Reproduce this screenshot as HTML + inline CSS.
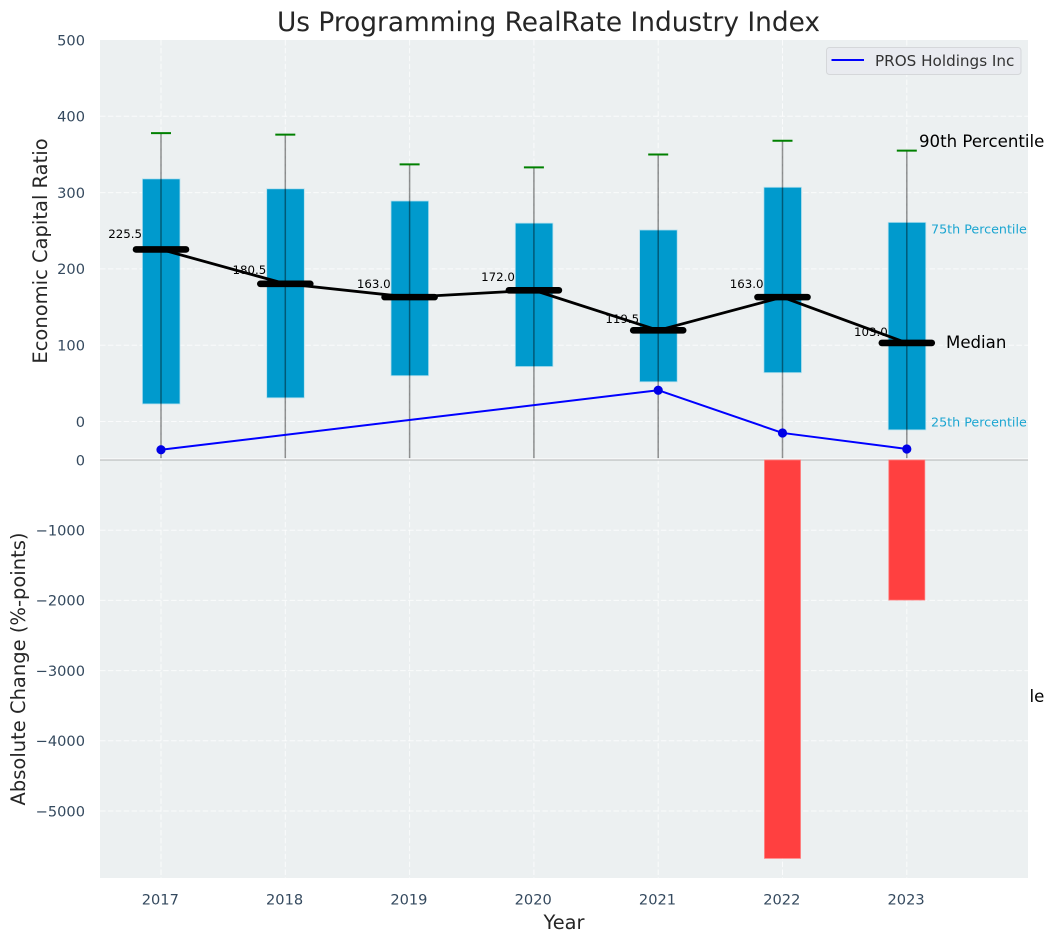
<!DOCTYPE html>
<html>
<head>
<meta charset="utf-8">
<title>Us Programming RealRate Industry Index</title>
<style>
html,body{margin:0;padding:0;background:#fff;width:1054px;height:942px;overflow:hidden}
svg{display:block}
text{font-family:"DejaVu Sans","Liberation Sans",sans-serif}
</style>
</head>
<body>
<svg id="chart" xmlns="http://www.w3.org/2000/svg" width="1054" height="942" viewBox="0 0 1054 942"></svg>
<script>
const years = [2017, 2018, 2019, 2020, 2021, 2022, 2023];
const p90 = [378, 376, 337, 333, 350, 368, 355];
const p75 = [318, 305, 289, 260, 251, 307, 261];
const medians = [225.5, 180.5, 163.0, 172.0, 119.5, 163.0, 103.0];
const p25 = [23, 31, 60, 72, 52, 64, -11];
const p10 = [-48, -48, -48, -48, -48, -48, -48];
const companyRatio = [-37, null, null, null, 41, -15, -36];
const absoluteChange = [null, null, null, null, null, -5675, -1995];
const upperTicks = [0, 100, 200, 300, 400, 500];
const lowerTicks = [0, -1000, -2000, -3000, -4000, -5000];

const svg = document.getElementById('chart');
const NS = 'http://www.w3.org/2000/svg';

function xAxis(year) { return 161 + (year - 2017) * 124.3; }
function yUpper(v) { return 421.5 - v * 0.763; }
function yLower(v) { return 460 - v * 0.0702; }

function make(tag, attrs, text) {
  const el = document.createElementNS(NS, tag);
  for (const k in attrs) el.setAttribute(k, attrs[k]);
  if (text !== undefined) el.textContent = text;
  svg.appendChild(el);
  return el;
}

let el;

// Clipped annotation that sits under the plot background
el = make('text', {x: 919, y: 702, 'font-size': 16.6, fill: '#000'}, '10th Percentile');



// Plot background
el = make('rect', {x: 100, y: 40, width: 928, height: 838, fill: '#ecf0f1'});



// Grid
const dash = '5.5 2.4';
years.forEach(function (yr) {
  const g = make('line', {x1: xAxis(yr), x2: xAxis(yr), y1: 40, y2: 878, stroke: '#fff', 'stroke-opacity': 0.75, 'stroke-width': 1, 'stroke-dasharray': dash});
  
  
});
upperTicks.forEach(function (t) {
  if (t === 500) return;
  const g = make('line', {x1: 100, x2: 1028, y1: yUpper(t), y2: yUpper(t), stroke: '#fff', 'stroke-opacity': 0.75, 'stroke-width': 1, 'stroke-dasharray': dash});
  
  
});
lowerTicks.forEach(function (t) {
  if (t === 0) return;
  const g = make('line', {x1: 100, x2: 1028, y1: yLower(t), y2: yLower(t), stroke: '#fff', 'stroke-opacity': 0.75, 'stroke-width': 1, 'stroke-dasharray': dash});
  
  
});

// Zero line of lower panel
el = make('line', {x1: 100, x2: 1028, y1: 459, y2: 459, stroke: '#fff', 'stroke-width': 1});


el = make('line', {x1: 100, x2: 1028, y1: 460, y2: 460, stroke: '#bdbfc0', 'stroke-width': 1.2});



// Median value labels (below the marks)
years.forEach(function (yr, i) {
  const t = make('text', {x: xAxis(yr) - 19, y: yUpper(medians[i] * 1.05) - 2.8, 'font-size': 11.8, 'text-anchor': 'end', fill: '#000'}, medians[i].toFixed(1));
  
  
});

// Percentile boxes
years.forEach(function (yr, i) {
  const top = yUpper(p75[i]);
  const b = make('rect', {x: xAxis(yr) - 18.6, y: top, width: 37.6, height: yUpper(p25[i]) - top, fill: '#009acd', stroke: '#b5e0ee', 'stroke-width': 0.8});
  
  
});

// Whiskers and caps
years.forEach(function (yr, i) {
  const x = xAxis(yr);
  const w = make('line', {x1: x, x2: x, y1: yUpper(p90[i]), y2: yUpper(p10[i]), stroke: '#000', 'stroke-opacity': 0.42, 'stroke-width': 1.5});
  
  
  const c = make('line', {x1: x - 10, x2: x + 10, y1: yUpper(p90[i]), y2: yUpper(p90[i]), stroke: '#008000', 'stroke-width': 2});
  
  
});

// Median trend line
el = make('polyline', {points: years.map(function (yr, i) { return xAxis(yr) + ',' + yUpper(medians[i]); }).join(' '), fill: 'none', stroke: '#000', 'stroke-width': 2.8, 'stroke-linejoin': 'round'});



// Median bars
years.forEach(function (yr, i) {
  const x = xAxis(yr);
  const m = make('line', {x1: x - 25, x2: x + 25, y1: yUpper(medians[i]), y2: yUpper(medians[i]), stroke: '#000', 'stroke-width': 6.6, 'stroke-linecap': 'round'});
  
  
});

// Company line
const companyPts = [];
years.forEach(function (yr, i) {
  if (companyRatio[i] !== null) companyPts.push(xAxis(yr) + ',' + yUpper(companyRatio[i]));
});
el = make('polyline', {points: companyPts.join(' '), fill: 'none', stroke: '#0000ff', 'stroke-width': 2, 'stroke-linejoin': 'round'});


years.forEach(function (yr, i) {
  if (companyRatio[i] === null) return;
  const d = make('circle', {cx: xAxis(yr), cy: yUpper(companyRatio[i]), r: 4.6, fill: '#0000e6'});
  
  
});

// Absolute change bars
years.forEach(function (yr, i) {
  if (absoluteChange[i] === null) return;
  const r = make('rect', {x: xAxis(yr) - 18, y: yLower(0), width: 36, height: yLower(absoluteChange[i]) - yLower(0), fill: '#ff4040', stroke: '#ff7b7b', 'stroke-width': 0.8});
  
  
});

// Tick labels
upperTicks.forEach(function (t) {
  const l = make('text', {x: 85, y: yUpper(t) + 5.3, 'font-size': 14.6, 'text-anchor': 'end', fill: '#34495e'}, String(t));
  
  
});
lowerTicks.forEach(function (t) {
  const l = make('text', {x: 85, y: yLower(t) + 5.3, 'font-size': 14.6, 'text-anchor': 'end', fill: '#34495e'}, String(t).replace('-', '\u2212'));
  
  
});
years.forEach(function (yr) {
  const l = make('text', {x: xAxis(yr) - 0.7, y: 904.5, 'font-size': 14.6, 'text-anchor': 'middle', fill: '#34495e'}, String(yr));
  
  
});

// Titles
el = make('text', {x: 548.5, y: 31, 'font-size': 26.4, 'text-anchor': 'middle', fill: '#262626'}, 'Us Programming RealRate Industry Index');


el = make('text', {x: 564, y: 929, 'font-size': 19.4, 'text-anchor': 'middle', fill: '#262626'}, 'Year');


el = make('text', {x: 0, y: 0, 'font-size': 19.5, 'text-anchor': 'middle', fill: '#262626', transform: 'translate(47 251) rotate(-90)'}, 'Economic Capital Ratio');


el = make('text', {x: 0, y: 0, 'font-size': 19.5, 'text-anchor': 'middle', fill: '#262626', transform: 'translate(25 669) rotate(-90)'}, 'Absolute Change (%-points)');



// Annotations
el = make('text', {x: 919, y: 147, 'font-size': 16.6, fill: '#000'}, '90th Percentile');


el = make('text', {x: 946, y: 348, 'font-size': 16.6, fill: '#000'}, 'Median');


el = make('text', {x: 931, y: 233.5, 'font-size': 12.7, fill: '#1ba5d1'}, '75th Percentile');


el = make('text', {x: 931, y: 426.5, 'font-size': 12.7, fill: '#1ba5d1'}, '25th Percentile');



// Legend
el = make('rect', {x: 826.5, y: 47.5, width: 194.5, height: 27, rx: 3, fill: '#e9ebf0', stroke: '#d5d7da', 'stroke-width': 1});


el = make('line', {x1: 831.5, x2: 864, y1: 60, y2: 60, stroke: '#0000ff', 'stroke-width': 2});


el = make('text', {x: 875, y: 66, 'font-size': 15.2, fill: '#333'}, 'PROS Holdings Inc');


</script>
</body>
</html>
